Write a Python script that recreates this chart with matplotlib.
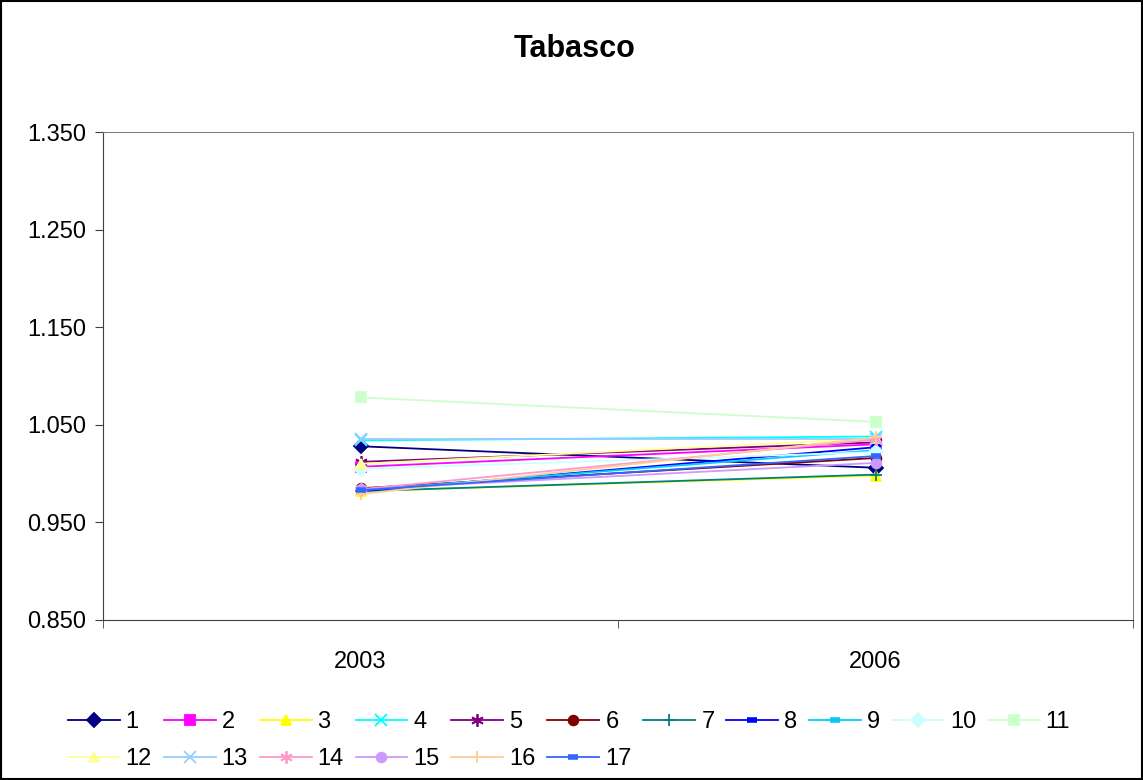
import numpy as np
import matplotlib.pyplot as plt
from matplotlib.patches import Rectangle

plt.rcParams['font.family'] = ['Liberation Sans', 'DejaVu Sans']

years = ['2003', '2006']
names = [str(i) for i in range(1, 18)]
v2003 = [1.028, 1.007, 0.982, 1.034, 1.012, 0.985, 0.982, 0.982, 0.983, 1.005,
         1.078, 1.010, 1.035, 0.984, 0.984, 0.979, 0.983]
v2006 = [1.006, 1.030, 0.998, 1.038, 1.032, 1.016, 0.999, 1.027, 1.024, 1.022,
         1.053, 1.036, 1.035, 1.035, 1.011, 1.037, 1.018]

colors = ['#000080', '#FF00FF', '#FFFF00', '#00FFFF', '#800080', '#800000', '#008080',
          '#0000FF', '#00CCFF', '#CCFFFF', '#CCFFCC', '#FFFF99', '#99CCFF', '#FF99CC',
          '#CC99FF', '#FFCC99', '#3366FF']
ast = (6, 2, 0)
markers = ['D', 's', '^', 'x', ast, 'o', '+', '_', '_', 'D', 's', '^', 'x', ast, 'o', '+', '_']

fig = plt.figure(figsize=(11.43, 7.80), dpi=100)
fig.patches.append(Rectangle((0.001, 0.001), 0.998, 0.998, transform=fig.transFigure,
                             fill=False, edgecolor='black', linewidth=1.5))
ax = fig.add_axes([103/1143, 1-620/780, 1030/1143, 488/780])

x = np.arange(len(years))
handles = []
for i in range(17):
    ms = 7
    mew = 1.3
    if markers[i] in ('x', '+', ast):
        ms = 9
    if markers[i] == '_':
        ms = 7
        mew = 4
    h, = ax.plot(x, [v2003[i], v2006[i]], color=colors[i], marker=markers[i],
                 markersize=ms, markeredgewidth=mew, linewidth=1.3, label=names[i])
    handles.append(h)

ax.set_xlim(-0.5, 1.5)
ax.set_ylim(0.85, 1.35)
ax.set_yticks(np.arange(0.85, 1.351, 0.1))
ax.set_yticklabels(['%.3f' % v for v in np.arange(0.85, 1.351, 0.1)])
ax.set_xticks(x)
ax.set_xticklabels(years)
ax.set_xticks([-0.5, 0.5, 1.5], minor=True)
ax.tick_params(axis='x', which='major', length=0, pad=22, labelsize=17)
ax.tick_params(axis='x', which='minor', length=6, direction='out', color='#404040')
ax.tick_params(axis='y', length=6, direction='out', labelsize=17, pad=6, color='#404040')
for s in ['top', 'right']:
    ax.spines[s].set_color('#808080')
for s in ['left', 'bottom']:
    ax.spines[s].set_color('#404040')

fig.text(575/1143, 1-49/780, 'Tabasco', ha='center', va='center', fontsize=22, fontweight='bold')

# legend rows: 1-11 then 12-17
order = []
for c in range(11):
    order.append(c)
    if c < 6:
        order.append(11 + c)
fig.legend([handles[k] for k in order], [names[k] for k in order],
           loc='upper left', bbox_to_anchor=(56/1143, 1-699/780), ncol=11,
           frameon=False, fontsize=17, handlelength=2.2, handletextpad=0.25,
           columnspacing=0.5, labelspacing=0.65, borderpad=0)

fig.savefig('out.png', dpi=100)
